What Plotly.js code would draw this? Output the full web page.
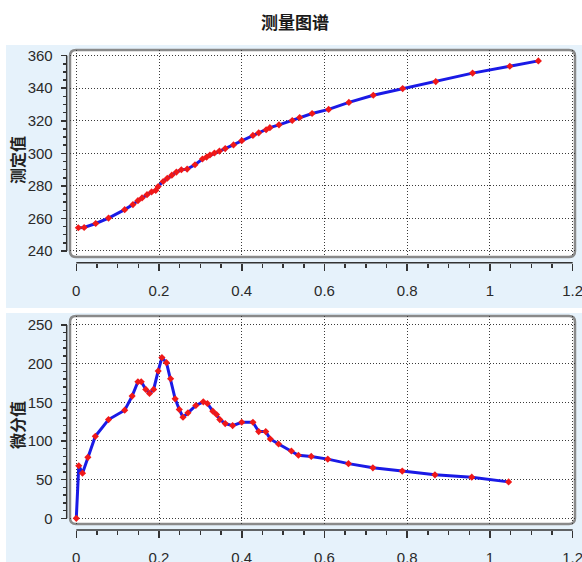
<!DOCTYPE html>
<html><head><meta charset="utf-8">
<script src="https://cdn.plot.ly/plotly-3.0.1.min.js"></script>
<style>html,body{margin:0;padding:0;background:#fff}#chart{width:582px;height:562px}</style>
</head><body><div id="chart"></div>
<script>
// ---- data ----
const chartTitle = '测量图谱';
const topTitle = '测定值';
const bottomTitle = '微分值';
const xMeasured = [0.005,0.019,0.047,0.078,0.117,0.137,0.149,0.159,0.171,0.182,0.192,0.198,0.21,0.22,0.231,0.242,0.254,0.268,0.287,0.305,0.315,0.323,0.334,0.346,0.36,0.38,0.4,0.427,0.441,0.459,0.468,0.49,0.522,0.54,0.57,0.61,0.659,0.718,0.789,0.869,0.958,1.048,1.117];
const yMeasured = [254.3,254.4,256.9,260.2,265.4,268.5,270.9,272.6,274.6,276.3,277.2,279.6,282.7,284.7,286.6,288.5,289.9,290.3,293,296.5,297.7,299,300.2,301.4,302.9,305.2,307.8,311,312.6,314.5,315.8,317.5,320.2,322,324.5,327,331.3,335.7,339.8,344.1,349.3,353.5,356.8];
const xDiff = [0,0.006,0.015,0.028,0.046,0.078,0.117,0.135,0.149,0.157,0.168,0.177,0.187,0.198,0.207,0.218,0.228,0.239,0.249,0.258,0.27,0.289,0.307,0.317,0.33,0.339,0.347,0.36,0.378,0.4,0.427,0.441,0.458,0.469,0.489,0.52,0.537,0.568,0.608,0.658,0.717,0.788,0.867,0.956,1.045];
const yDiff = [0,68,58.4,78.8,106,127.7,139.8,158,176.6,176.6,166.7,161.5,166.7,190.5,207.8,201.3,180.5,154.5,140.7,130.7,136.4,145.9,150.6,148.5,138.5,134.2,127.7,122.5,119.9,124.2,124.2,112.1,112.1,102.6,96.1,87,81.5,80,76.5,70.7,65.3,61.1,56.2,53.2,47.1];

// ---- layout helpers (pixel -> paper) ----
const W = 582, H = 562;
const px = v => v / W, py = v => 1 - v / H;

const lineStyle = {color: '#1a1ae6', width: 3};
const markerStyle = {color: '#f01818', size: 5.5, symbol: 'diamond'};

const traces = [
  {x: xMeasured, y: yMeasured, xaxis: 'x', yaxis: 'y', mode: 'lines+markers', line: lineStyle, marker: markerStyle, showlegend: false, hoverinfo: 'x+y'},
  {x: xDiff, y: yDiff, xaxis: 'x2', yaxis: 'y2', mode: 'lines+markers', line: lineStyle, marker: markerStyle, showlegend: false, hoverinfo: 'x+y'}
];

const tickFont = {family: '"Liberation Sans Narrow", "Liberation Sans", Arial, sans-serif', size: 15, color: '#2a2a2a'};
const titleFont = {family: '"Noto Sans CJK SC", sans-serif', size: 16, color: '#222', weight: 'bold'};
const gridCommon = {showgrid: true, gridcolor: '#3a3a3a', gridwidth: 1, griddash: '1px,2px', zeroline: false, showline: false,
  ticks: 'outside', ticklen: 7, tickwidth: 1.5, tickcolor: '#333', tickfont: tickFont, ticklabeloverflow: 'allow'};

function xAxis(pos) {
  return Object.assign({}, gridCommon, {
    domain: [px(70), px(575)], range: [-0.0152, 1.2056], anchor: 'free', position: pos,
    tick0: 0, dtick: 0.2, ticklabelstandoff: 7,
    minor: {ticks: 'outside', ticklen: 4, tickwidth: 1.5, tickcolor: '#333', dtick: 0.05, showgrid: false}
  });
}
function yAxis(dom, rng, dt, mvals) {
  return Object.assign({}, gridCommon, {
    domain: dom, range: rng, anchor: 'free', position: px(66.7), tick0: 0, dtick: dt, ticklen: 6, ticklabelstandoff: 5,
    minor: {ticks: 'outside', ticklen: 3.5, tickwidth: 1.5, tickcolor: '#333', tickmode: 'array', tickvals: mvals, showgrid: false}
  });
}
const minorTop = []; for (let v = 240; v <= 360; v += 5) minorTop.push(v);
const minorBot = []; for (let v = 0; v <= 250; v += 10) minorBot.push(v);

function roundRect(x0, y0, x1, y1, r) {
  const rx = r / W, ry = r / H;
  const X0 = px(x0), X1 = px(x1), Y0 = py(y0), Y1 = py(y1);
  return `M ${X0 + rx},${Y0} L ${X1 - rx},${Y0} Q ${X1},${Y0} ${X1},${Y0 - ry} L ${X1},${Y1 + ry} Q ${X1},${Y1} ${X1 - rx},${Y1} L ${X0 + rx},${Y1} Q ${X0},${Y1} ${X0},${Y1 + ry} L ${X0},${Y0 - ry} Q ${X0},${Y0} ${X0 + rx},${Y0} Z`;
}

const panelFill = '#e6f2fb';
const shapes = [
  {type: 'rect', xref: 'paper', yref: 'paper', x0: px(6), x1: 1, y0: py(308), y1: py(45), fillcolor: panelFill, line: {width: 0}, layer: 'below'},
  {type: 'rect', xref: 'paper', yref: 'paper', x0: px(6), x1: 1, y0: 0, y1: py(313), fillcolor: panelFill, line: {width: 0}, layer: 'below'},
  {type: 'path', xref: 'paper', yref: 'paper', path: roundRect(70, 50, 575, 257, 6), fillcolor: '#ffffff', line: {color: '#8a8a8a', width: 2.5}, layer: 'below'},
  {type: 'path', xref: 'paper', yref: 'paper', path: roundRect(70, 316, 575, 524, 6), fillcolor: '#ffffff', line: {color: '#8a8a8a', width: 2.5}, layer: 'below'},
  {type: 'line', xref: 'x', yref: 'paper', x0: 0, x1: 1.2, y0: py(262.7), y1: py(262.7), line: {color: '#333', width: 1.5}},
  {type: 'line', xref: 'paper', yref: 'y', x0: px(66.7), x1: px(66.7), y0: 240, y1: 360, line: {color: '#333', width: 1.5}},
  {type: 'line', xref: 'x2', yref: 'paper', x0: 0, x1: 1.2, y0: py(530), y1: py(530), line: {color: '#333', width: 1.5}},
  {type: 'line', xref: 'paper', yref: 'y2', x0: px(66.7), x1: px(66.7), y0: 0, y1: 250, line: {color: '#333', width: 1.5}}
];

const annotations = [
  {text: topTitle, xref: 'paper', yref: 'paper', x: px(17), y: py(160), xanchor: 'center', yanchor: 'middle', textangle: -90, showarrow: false, font: titleFont},
  {text: bottomTitle, xref: 'paper', yref: 'paper', x: px(17), y: py(425), xanchor: 'center', yanchor: 'middle', textangle: -90, showarrow: false, font: titleFont}
];

const layout = {
  width: W, height: H, margin: {l: 0, r: 0, t: 0, b: 0},
  paper_bgcolor: '#ffffff', plot_bgcolor: 'rgba(0,0,0,0)',
  title: {text: chartTitle, font: {family: '"Noto Sans CJK SC", sans-serif', size: 17, color: '#1a1a1a', weight: 'bold'},
          x: px(295), xanchor: 'center', y: py(23), yanchor: 'middle'},
  xaxis: xAxis(py(262.7)),
  yaxis: yAxis([py(257), py(50)], [236.3, 363.5], 20, minorTop),
  xaxis2: xAxis(py(530)),
  yaxis2: yAxis([py(524), py(316)], [-7.37, 261.6], 50, minorBot),
  shapes: shapes,
  annotations: annotations,
  showlegend: false
};

Plotly.newPlot('chart', traces, layout, {displayModeBar: false, staticPlot: true});
</script>
</body></html>
